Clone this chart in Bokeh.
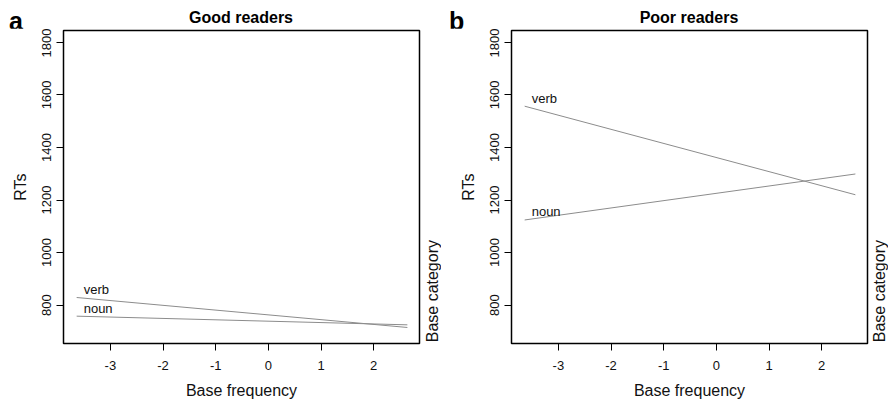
import math
from bokeh.plotting import figure
from bokeh.layouts import row, column
from bokeh.models import FixedTicker, Range1d, ColumnDataSource, Div
from bokeh.embed import file_html
from bokeh.resources import INLINE
from bokeh.core.properties import value

# ---- data ----
freq_range = [-3.64, 2.64]            # Base frequency span of fitted lines
good_verb = [829, 715]                # RTs, good readers, verb
good_noun = [758, 725]                # RTs, good readers, noun
poor_verb = [1557, 1220]              # RTs, poor readers, verb
poor_noun = [1124, 1299]              # RTs, poor readers, noun
categories = ["verb", "noun"]
panel_letters = ["a", "b"]
panel_titles = ["Good readers", "Poor readers"]
x_ticks = [-3, -2, -1, 0, 1, 2]
y_ticks = [800, 1000, 1200, 1400, 1600, 1800]

FONT = "Liberation Sans"
LINE_COLOR = "#8c8c8c"
FIG_H = 373


def make_panel(verb, noun, width, bl, br):
    p = figure(width=width, height=FIG_H, output_backend="svg", toolbar_location=None,
               x_range=Range1d(-3.89, 2.87), y_range=Range1d(654, 1845),
               min_border_left=bl, min_border_right=br, min_border_top=2,
               min_border_bottom=58)
    p.grid.visible = False
    p.outline_line_color = "black"
    p.outline_line_width = 1.5
    p.background_fill_color = "white"
    p.border_fill_color = "white"

    for ax in (p.xaxis[0], p.yaxis[0]):
        ax.axis_line_color = "black"
        ax.major_tick_line_color = "black"
        ax.major_tick_out = 7
        ax.major_tick_in = 0
        ax.minor_tick_line_color = None
        ax.major_label_text_font = FONT
        ax.major_label_text_font_size = "13px"
        ax.major_label_text_color = "#111111"
        ax.axis_label_text_font = FONT
        ax.axis_label_text_font_size = "16px"
        ax.axis_label_text_font_style = "normal"
        ax.axis_label_text_color = "#111111"

    p.xaxis.ticker = FixedTicker(ticks=x_ticks)
    p.xaxis.major_label_overrides = {t: str(t) for t in x_ticks}
    p.yaxis.ticker = FixedTicker(ticks=y_ticks)
    p.xaxis.axis_label = "Base frequency"
    p.yaxis.axis_label = "RTs"
    p.yaxis.major_label_orientation = "vertical"
    p.xaxis.major_label_standoff = 10
    p.xaxis.axis_label_standoff = 9
    p.yaxis.major_label_standoff = 5
    p.yaxis.axis_label_standoff = 11

    for cat, vals in zip(categories, [verb, noun]):
        src = ColumnDataSource(dict(x=freq_range, y=vals))
        p.line("x", "y", source=src, line_color=LINE_COLOR, line_width=1)
        p.text(x=[freq_range[0]], y=[vals[0]], text=[cat], text_font=value(FONT),
               text_font_size="13px", text_color="#111111", text_align="left",
               text_baseline="middle", x_offset=7, y_offset=-8)
    return p


def letter_div(letter, width, pad_left):
    html = (f'<div style="padding:9px 0 0 {pad_left}px;font-family:\'{FONT}\';'
            f'font-size:25px;font-weight:bold;line-height:25px;color:black;'
            f'white-space:nowrap;">{letter}</div>')
    return Div(text=html, width=width, height=28, margin=0,
               styles={"overflow": "visible"})


def title_div(title, width):
    html = (f'<div style="width:{width}px;padding-top:10px;text-align:center;'
            f'font-family:\'{FONT}\';font-size:16px;font-weight:bold;line-height:16px;'
            f'color:black;white-space:nowrap;">{title}</div>')
    return Div(text=html, width=width, height=28, margin=0,
               styles={"overflow": "visible"})


def side_div(width):
    html = (f'<div style="box-sizing:border-box;width:{width}px;height:{FIG_H}px;'
            f'padding-bottom:59px;display:flex;flex-direction:column;'
            f'justify-content:flex-end;align-items:center;">'
            f'<span style="writing-mode:vertical-rl;transform:rotate(180deg);'
            f'font-family:\'{FONT}\';font-size:16px;line-height:16px;color:#111111;'
            f'white-space:nowrap;">Base category</span></div>')
    return Div(text=html, width=width, height=FIG_H, margin=0,
               styles={"overflow": "visible"})


pa = make_panel(good_verb, good_noun, 425, 63, 6)
pb = make_panel(poor_verb, poor_noun, 430, 70, 4)

header = row(letter_div(panel_letters[0], 63, 9), title_div(panel_titles[0], 356),
             letter_div(panel_letters[1], 92, 30), title_div(panel_titles[1], 356))
body = row(pa, side_div(16), pb, side_div(18))
layout = column(header, body)
open("out.html", "w").write(file_html(layout, INLINE))
